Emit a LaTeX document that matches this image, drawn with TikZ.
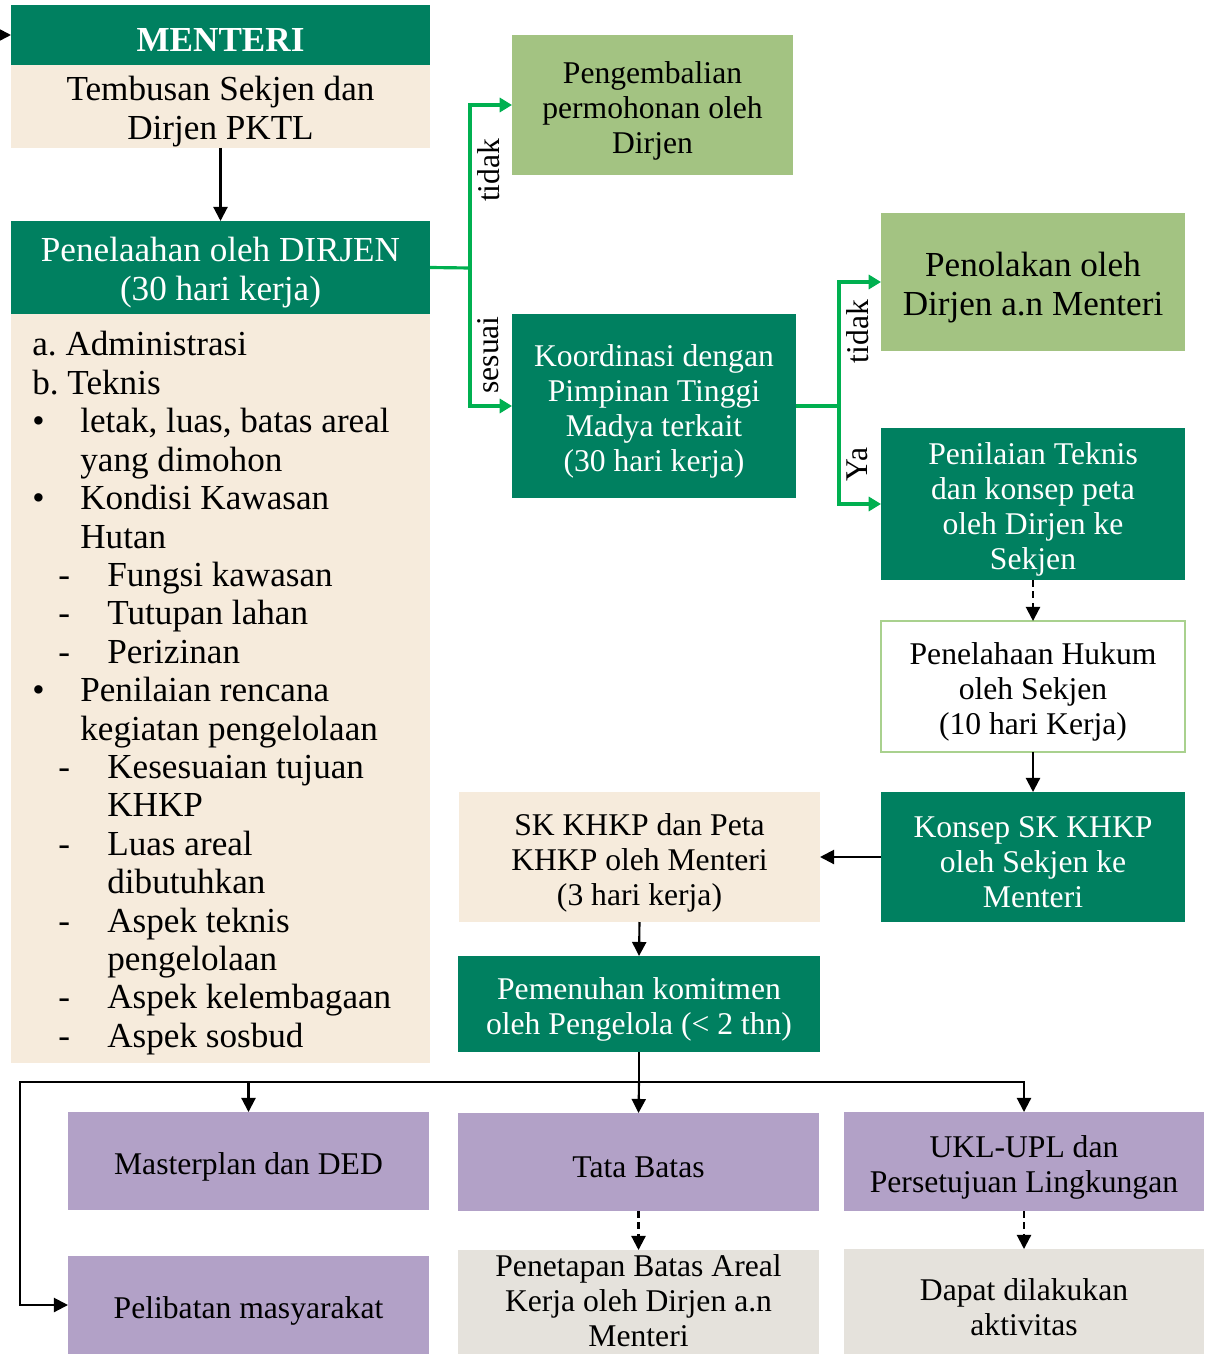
\documentclass[tikz,border=0pt]{standalone}
\usepackage{fontspec}
\setmainfont{Liberation Serif}
\usetikzlibrary{arrows.meta}
\definecolor{darkGreen}{RGB}{0,128,96}
\definecolor{paleGreen}{RGB}{163,195,130}
\definecolor{arrowGreen}{RGB}{0,176,80}
\definecolor{beige}{RGB}{246,235,220}
\definecolor{lilac}{RGB}{178,161,199}
\definecolor{greyBeige}{RGB}{229,226,220}
\definecolor{outlineGreen}{RGB}{169,209,142}
\newcommand{\bigText}{\fontsize{20}{22.2}\selectfont}
\newcommand{\smallText}{\fontsize{18}{19.9}\selectfont}
\tikzstyle{chart} = [x = 0.02cm, y = -0.02cm]
\tikzstyle{plainBox} = [inner sep=0pt, outer sep=0pt, align=center, font=\smallText]
\tikzstyle{headBox} = [plainBox, fill=darkGreen, text=white, font=\bigText\bfseries]
\tikzstyle{darkBox} = [plainBox, fill=darkGreen, text=white]
\tikzstyle{beigeBox} = [plainBox, fill=beige, font=\bigText]
\tikzstyle{paleBox} = [plainBox, fill=paleGreen]
\tikzstyle{outlineBox} = [plainBox, fill=white, draw=outlineGreen, line width=1pt]
\tikzstyle{lilacBox} = [plainBox, fill=lilac]
\tikzstyle{greyBox} = [plainBox, fill=greyBeige]
\tikzstyle{listText} = [anchor=base west, inner sep=0pt, font=\bigText\frenchspacing]
\tikzstyle{flowLine} = [draw=black, line width=1.2pt]
\tikzstyle{flowArrow} = [flowLine, -{Triangle[length=8pt, width=8pt]}]
\tikzstyle{flowDashed} = [flowArrow, dash pattern=on 4pt off 2.5pt]
\tikzstyle{greenLine} = [draw=arrowGreen, line width=1.8pt]
\tikzstyle{greenArrow} = [greenLine, -{Triangle[length=7pt, width=8pt]}]
\tikzstyle{branchLabel} = [rotate=90, anchor=north, inner sep=3.5pt, font=\smallText]
% box from its pixel corners: name, style, x1, y1, x2, y2, text
\newcommand{\flowBox}[7]{
  \node [#2, minimum width={(#5-#3)*0.02cm}, minimum height={(#6-#4)*0.02cm}] (#1) at ({(#3+#5)/2}, {(#4+#6)/2}) {};
  \node [#2, fill=none, draw=none] (#1Text) at ([yshift=-0.11cm]#1.center) {#7};
}
\begin{document}
\begin{tikzpicture}[chart]
  \useasboundingbox (0,0) rectangle (1204,1354);
  % left column
  \flowBox{menteri}{headBox}{11}{5}{430}{65}{MENTERI}
  \flowBox{tembusan}{beigeBox}{11}{65}{430}{148}{Tembusan Sekjen dan\\Dirjen PKTL}
  \flowBox{penelaahan}{darkBox, font=\bigText}{11}{221}{430}{314}{Penelaahan oleh DIRJEN\\(30 hari kerja)}
  \flowBox{kriteria}{beigeBox}{11}{314}{430}{1063}{}
  \foreach \lx/\ltxt [count=\k] in {32/{a. Administrasi}, 32/{b. Teknis}, 80/{letak, luas, batas areal}, 80/{yang dimohon},
      80/{Kondisi Kawasan}, 80/Hutan, 107/{Fungsi kawasan}, 107/{Tutupan lahan}, 107/Perizinan,
      80/{Penilaian rencana}, 80/{kegiatan pengelolaan}, 107/{Kesesuaian tujuan}, 107/KHKP,
      107/{Luas areal}, 107/dibutuhkan, 107/{Aspek teknis}, 107/pengelolaan, 107/{Aspek kelembagaan}, 107/{Aspek sosbud}} {
    \node [listText] (item\k) at (\lx, {356 + 38.4 * (\k - 1)}) {\ltxt};
  }
  \foreach \mline/\mx/\mk in {3/32/\textbullet, 5/32/\textbullet, 7/58/-, 8/58/-, 9/58/-, 10/32/\textbullet,
      12/58/-, 14/58/-, 16/58/-, 18/58/-, 19/58/-} {
    \node [listText] (marker\mline) at (\mx, {356 + 38.4 * (\mline - 1)}) {\mk};
  }
  % middle and right columns
  \flowBox{pengembalian}{paleBox}{512}{35}{793}{175}{Pengembalian\\permohonan oleh\\Dirjen}
  \flowBox{koordinasi}{darkBox}{512}{314}{796}{498}{Koordinasi dengan\\Pimpinan Tinggi\\Madya terkait\\(30 hari kerja)}
  \flowBox{penolakan}{paleBox, font=\bigText}{881}{213}{1185}{351}{Penolakan oleh\\Dirjen a.n Menteri}
  \flowBox{penilaian}{darkBox}{881}{428}{1185}{580}{Penilaian Teknis\\dan konsep peta\\oleh Dirjen ke\\Sekjen}
  \flowBox{hukum}{outlineBox}{881}{621}{1185}{752}{Penelahaan Hukum\\oleh Sekjen\\(10 hari Kerja)}
  \flowBox{konsep}{darkBox}{881}{792}{1185}{922}{Konsep SK KHKP\\oleh Sekjen ke\\Menteri}
  \flowBox{skKhkp}{beigeBox, font=\smallText}{459}{792}{820}{922}{SK KHKP dan Peta\\KHKP oleh Menteri\\(3 hari kerja)}
  \flowBox{pemenuhan}{darkBox}{458}{956}{820}{1052}{Pemenuhan komitmen\\oleh Pengelola (< 2 thn)}
  % bottom rows
  \flowBox{masterplan}{lilacBox}{68}{1112}{429}{1210}{Masterplan dan DED}
  \flowBox{tataBatas}{lilacBox}{458}{1113}{819}{1211}{Tata Batas}
  \flowBox{uklUpl}{lilacBox}{844}{1112}{1204}{1211}{UKL-UPL dan\\Persetujuan Lingkungan}
  \flowBox{pelibatan}{lilacBox}{68}{1256}{429}{1354}{Pelibatan masyarakat}
  \flowBox{penetapan}{greyBox}{458}{1250}{819}{1354}{}
  \node [greyBox, fill=none] (penetapanLines) at ([yshift=0.02cm]penetapan.center) {Penetapan Batas Areal\\Kerja oleh Dirjen a.n\\Menteri};
  \flowBox{aktivitas}{greyBox}{844}{1249}{1204}{1354}{Dapat dilakukan\\aktivitas}
  % connectors
  \coordinate (menteriIn) at (0,35);
  \coordinate (dirjenSplit) at (470,268);
  \coordinate (koordSplit) at (839,406);
  \coordinate (komitmenSplit) at (639,1082);
  \coordinate (leftRail) at (20,1082);
  \draw [flowArrow] (menteriIn) -- (menteri.west);
  \draw [flowArrow] (tembusan.south) -- (penelaahan.north);
  \draw [greenLine] (penelaahan.east) -- (dirjenSplit);
  \draw [greenArrow] (dirjenSplit) |- node [branchLabel, pos=0.3] {tidak} (pengembalian.west);
  \draw [greenArrow] (dirjenSplit) |- node [branchLabel, pos=0.315] {sesuai} (koordinasi.west);
  \draw [greenLine] (koordinasi.east) -- (koordSplit);
  \draw [greenArrow] (koordSplit) |- node [branchLabel, pos=0.3] {tidak} (penolakan.west);
  \draw [greenArrow] (koordSplit) |- node [branchLabel, pos=0.3] {Ya} (penilaian.west);
  \draw [flowDashed] (penilaian.south) -- (hukum.north);
  \draw [flowArrow] (hukum.south) -- (konsep.north);
  \draw [flowArrow] (konsep.west) -- (skKhkp.east);
  \draw [flowArrow] (skKhkp.south) -- (pemenuhan.north);
  \draw [flowLine] (pemenuhan.south) -- (komitmenSplit);
  \draw [flowArrow] (komitmenSplit) -- (tataBatas.north);
  \draw [flowArrow] (komitmenSplit) -| (uklUpl.north);
  \draw [flowArrow] (komitmenSplit) -| (masterplan.north);
  \draw [flowArrow] (komitmenSplit) -- (leftRail) |- (pelibatan.west);
  \draw [flowDashed] (tataBatas.south) -- (penetapan.north);
  \draw [flowDashed] (uklUpl.south) -- (aktivitas.north);
\end{tikzpicture}
\end{document}
